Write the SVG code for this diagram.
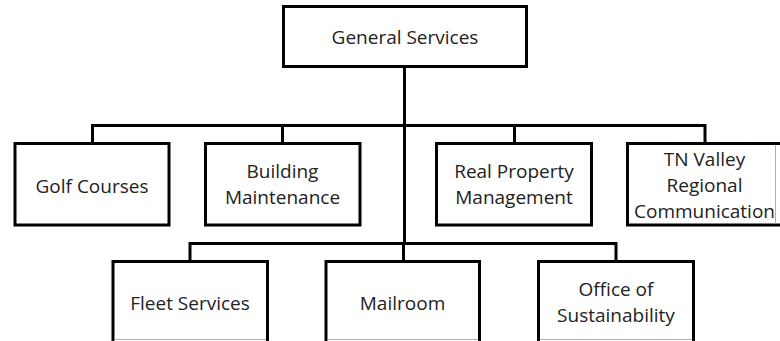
<svg xmlns="http://www.w3.org/2000/svg" width="780" height="341" viewBox="0 0 780 341">
  <style>
    .box { fill: #ffffff; stroke: #000000; stroke-width: 3; }
    .clip { stroke: #b0b0b0; stroke-width: 1; fill: none; }
    .conn { stroke: #000000; stroke-width: 3; fill: none; stroke-linecap: square; }
    text { font-family: "Open Sans", "Noto Sans", "Liberation Sans", sans-serif; font-size: 19px; fill: #222222; text-anchor: middle; }
  </style>
  <rect width="780" height="341" fill="#ffffff"/>
  <g id="connectors">
    <line class="conn" x1="404.5" y1="67" x2="404.5" y2="243.5"/>
    <polyline class="conn" points="92.5,143 92.5,125.5 705,125.5 705,143"/>
    <line class="conn" x1="282.5" y1="125.5" x2="282.5" y2="143"/>
    <line class="conn" x1="514.5" y1="125.5" x2="514.5" y2="143"/>
    <polyline class="conn" points="190,261 190,243.5 616,243.5 616,261"/>
    <line class="conn" x1="403.5" y1="243.5" x2="403.5" y2="261"/>
  </g>
  <g id="node-general-services">
    <rect class="box" x="283.5" y="6.5" width="243" height="60"/>
    <text x="405" y="44">General Services</text>
  </g>
  <g id="node-golf-courses">
    <rect class="box" x="15" y="143.5" width="154" height="81.5"/>
    <text x="92" y="192.5">Golf Courses</text>
  </g>
  <g id="node-building-maintenance">
    <rect class="box" x="205.5" y="143.5" width="154.5" height="81.5"/>
    <text x="282.5" y="178">Building</text>
    <text x="282.5" y="204">Maintenance</text>
  </g>
  <g id="node-real-property-management">
    <rect class="box" x="436.5" y="143.5" width="155" height="81.5"/>
    <text x="514" y="178">Real Property</text>
    <text x="514" y="204">Management</text>
  </g>
  <g id="node-tn-valley">
    <rect class="box" x="627.5" y="143.5" width="170" height="81.5"/>
    <line class="clip" x1="775.5" y1="145" x2="775.5" y2="223.5"/>
    <text x="704.5" y="166">TN Valley</text>
    <text x="704.5" y="192">Regional</text>
    <text x="704.5" y="218">Communication</text>
  </g>
  <g id="node-fleet-services">
    <rect class="box" x="113" y="261.5" width="154.5" height="100"/>
    <line class="clip" x1="114.5" y1="339.5" x2="266" y2="339.5"/>
    <text x="190" y="309.5">Fleet Services</text>
  </g>
  <g id="node-mailroom">
    <rect class="box" x="326" y="261.5" width="153.5" height="100"/>
    <line class="clip" x1="327.5" y1="339.5" x2="478" y2="339.5"/>
    <text x="402.5" y="309.5">Mailroom</text>
  </g>
  <g id="node-office-of-sustainability">
    <rect class="box" x="538.5" y="261.5" width="155" height="100"/>
    <line class="clip" x1="540" y1="339.5" x2="692" y2="339.5"/>
    <text x="616" y="296">Office of</text>
    <text x="616" y="322">Sustainability</text>
  </g>
</svg>
